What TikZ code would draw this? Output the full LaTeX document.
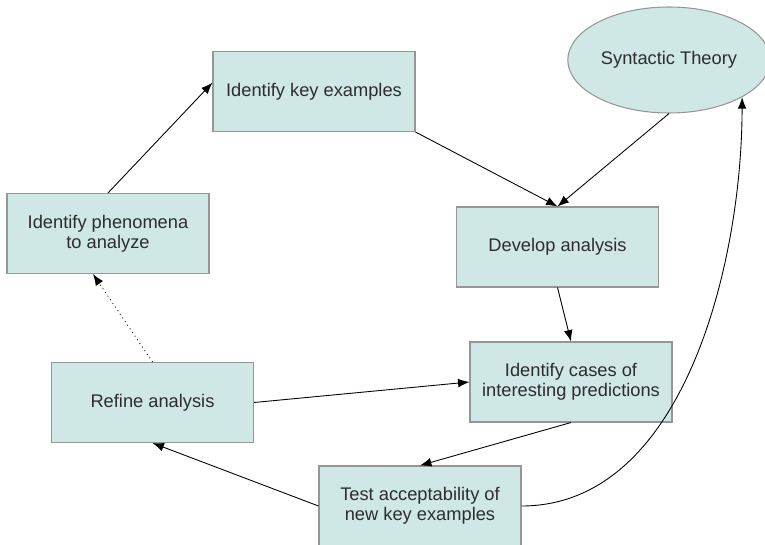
\documentclass[tikz,border=0pt]{standalone}
\usepackage{fontspec}
\setmainfont{Liberation Sans}
\usetikzlibrary{arrows.meta,shapes.geometric}

\definecolor{vakvulling}{RGB}{207,231,229}
\definecolor{vakrand}{RGB}{150,150,150}
\definecolor{tekstgrijs}{RGB}{45,45,45}

\begin{document}
\begin{tikzpicture}[>={Latex[length=6.5pt,width=5pt]}]

% --- Stijldefinities ---
\tikzset{
    vak/.style={
        draw=vakrand,
        fill=vakvulling,
        line width=0.6pt,
        text=tekstgrijs,
        font=\fontsize{10.4}{11.6}\selectfont,
        align=center,
        minimum width=4.04cm,
        minimum height=1.6cm,
        inner sep=2pt
    },
    theorie/.style={
        vak,
        ellipse,
        minimum width=3.84cm,
        minimum height=2.12cm
    },
    pijl/.style={
        ->,
        line width=0.5pt,
        draw=black
    },
    stippel/.style={
        pijl,
        dotted
    }
}

\useasboundingbox (0,0) rectangle (15.3,10.88);

% --- Knooppunten ---

% Bovenste rij
\node[vak] (sleutel) at (6.28, 9.05) {Identify key examples};
\node[theorie] (theorie) at (13.38, 9.68) {Syntactic Theory};

% Midden
\node[vak] (fenomeen) at (2.16, 6.21) {Identify phenomena\\to analyze};
\node[vak] (analyse)  at (11.15, 5.94) {Develop analysis};

% Onder
\node[vak] (voorspel) at (11.42, 3.24) {Identify cases of\\interesting predictions};
\node[vak] (verfijn)  at (3.05, 2.83)  {Refine analysis};
\node[vak] (test)     at (8.4, 0.76)   {Test acceptability of\\new key examples};


% --- Pijlen ---

% De cyclus
\draw[pijl] (fenomeen.north) -- (sleutel.175);
\draw[pijl] (sleutel.south east) -- (analyse.north);
\draw[pijl] (theorie.south) -- (analyse.north);
\draw[pijl] (analyse.south) -- (voorspel.north);
\draw[pijl] (voorspel.south) -- (test.north);
\draw[pijl] (test.west) -- (verfijn.south);
\draw[pijl] (verfijn.east) -- (voorspel.west);

% Terug naar de fenomenen
\draw[stippel] (verfijn.north) -- ([xshift=-0.3cm]fenomeen.south);

% Terug naar de theorie
\draw[pijl] (test.east) to[out=0, in=-90, looseness=0.9] (theorie.-27);

\end{tikzpicture}
\end{document}
